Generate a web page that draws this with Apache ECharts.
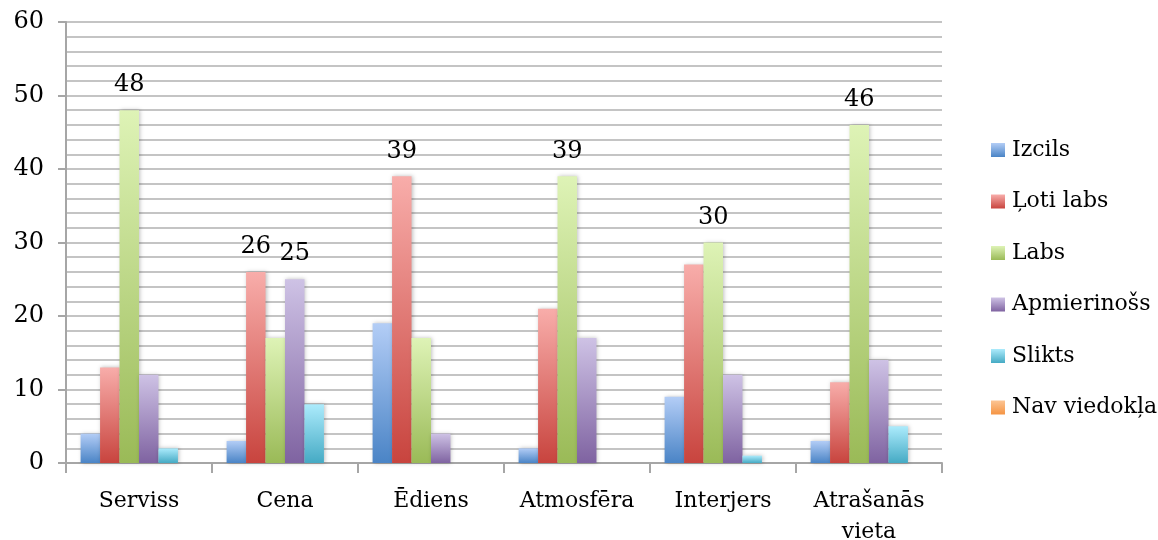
<!DOCTYPE html>
<html>
<head>
<meta charset="utf-8">
<script src="https://cdn.jsdelivr.net/npm/echarts@6/dist/echarts.min.js"></script>
<style>
  html, body { margin: 0; padding: 0; background: #fff; }
  #chart { width: 1158px; height: 540px; }
</style>
</head>
<body>
<div id="chart"></div>
<script>
// Categories and ratings
const categories = ['Serviss', 'Cena', 'Ēdiens', 'Atmosfēra', 'Interjers', 'Atrašanās\nvieta'];
const seriesNames = ['Izcils', 'Ļoti labs', 'Labs', 'Apmierinošs', 'Slikts', 'Nav viedokļa'];

const izcils      = [4, 3, 19, 2, 9, 3];
const lotiLabs    = [13, 26, 39, 21, 27, 11];
const labs        = [48, 17, 17, 39, 30, 46];
const apmierinoss = [12, 25, 4, 17, 12, 14];
const slikts      = [2, 8, 0, 0, 1, 5];
const navViedokla = [0, 0, 0, 0, 0, 0];

// Which bars carry a value label: [series index, category index]
const labelledBars = [[2, 0], [1, 1], [3, 1], [1, 2], [2, 3], [2, 4], [2, 5]];

const yTicks = [0, 10, 20, 30, 40, 50, 60];

const values = [izcils, lotiLabs, labs, apmierinoss, slikts, navViedokla];

// Gradient stops (top, bottom) per series
const palette = [
  ['#b3cdf6', '#4a84c6'],
  ['#f8adaa', '#c8443e'],
  ['#def3b6', '#9aba57'],
  ['#cec2e5', '#7f63a1'],
  ['#acebfc', '#45aac4'],
  ['#fcc594', '#f59443']
];

const FONT = 'DejaVu Serif';

function grad(c) {
  return new echarts.graphic.LinearGradient(0, 0, 0, 1, [
    { offset: 0, color: c[0] },
    { offset: 1, color: c[1] }
  ]);
}

const series = values.map((arr, si) => ({
  name: seriesNames[si],
  type: 'bar',
  barGap: '0%',
  barCategoryGap: '20%',
  itemStyle: {
    color: grad(palette[si]),
    shadowColor: 'rgba(0,0,0,0.25)',
    shadowBlur: 4,
    shadowOffsetX: 1,
    shadowOffsetY: 0
  },
  data: arr.map((v, ci) => {
    const labelled = labelledBars.some(p => p[0] === si && p[1] === ci);
    return labelled
      ? { value: v, label: { show: true, position: 'top', distance: 13, fontFamily: FONT, fontSize: 24, color: '#000' } }
      : v;
  })
}));

const chart = echarts.init(document.getElementById('chart'), null, { renderer: 'canvas' });
chart.setOption({
  animation: false,
  backgroundColor: '#ffffff',
  grid: { left: 66, right: 216, top: 22, bottom: 77, containLabel: false, outerBoundsMode: 'none' },
  legend: {
    orient: 'vertical',
    left: 986,
    top: 134,
    itemWidth: 14,
    itemHeight: 14,
    itemGap: 29.5,
    icon: 'rect',
    textStyle: { fontFamily: FONT, fontSize: 22, color: '#000', padding: [0, 0, 0, 2] },
    data: seriesNames
  },
  xAxis: {
    type: 'category',
    data: categories,
    axisLine: { lineStyle: { color: '#a6a6a6', width: 2 } },
    axisTick: { show: true, interval: 0, length: 10, lineStyle: { color: '#a6a6a6', width: 2 } },
    axisLabel: { interval: 0, fontFamily: FONT, fontSize: 22, color: '#000', margin: 23, lineHeight: 31 }
  },
  yAxis: {
    type: 'value',
    min: yTicks[0],
    max: yTicks[yTicks.length - 1],
    interval: 10,
    axisLine: { show: true, lineStyle: { color: '#a6a6a6', width: 2 } },
    axisTick: { show: true, length: 8, lineStyle: { color: '#a6a6a6', width: 2 } },
    axisLabel: { fontFamily: FONT, fontSize: 24, color: '#000', margin: 22 },
    splitLine: { lineStyle: { color: '#c4c4c4', width: 2 } },
    minorTick: { show: false, splitNumber: 5 },
    minorSplitLine: { show: true, lineStyle: { color: '#c4c4c4', width: 2 } }
  },
  series: series
});
</script>
</body>
</html>
